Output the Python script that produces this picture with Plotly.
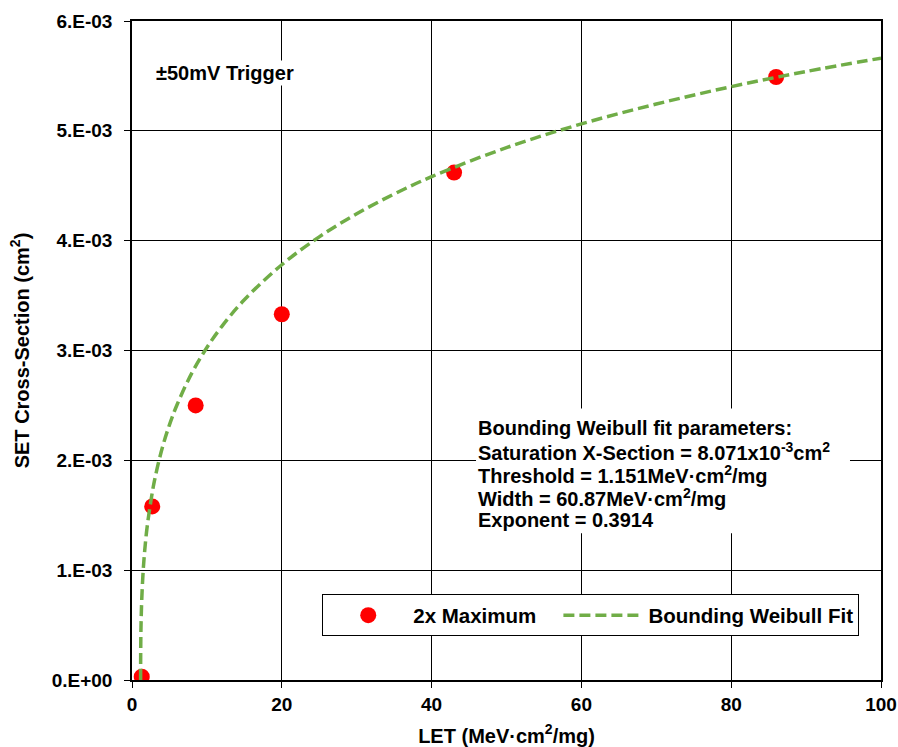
import plotly.graph_objects as go

# Measured data (2x Maximum)
let_pts = [1.3, 2.7, 8.5, 20, 43, 86]
xs_pts = [0.03e-3, 1.58e-3, 2.50e-3, 3.33e-3, 4.62e-3, 5.49e-3]

# Bounding Weibull fit curve
let_fit = [1.151, 1.16, 1.2, 1.3, 1.5, 1.7, 2, 2.5, 3, 4, 5, 6, 8, 10, 12, 15, 20, 25, 30, 35, 40, 50, 60, 70, 80, 90, 100]
xs_fit = [0.0, 0.252e-3, 0.481e-3, 0.732e-3, 1.003e-3, 1.18e-3, 1.382e-3, 1.62e-3, 1.815e-3, 2.103e-3,
          2.323e-3, 2.504e-3, 2.796e-3, 3.027e-3, 3.220e-3, 3.462e-3, 3.781e-3, 4.035e-3, 4.245e-3,
          4.425e-3, 4.583e-3, 4.847e-3, 5.063e-3, 5.244e-3, 5.402e-3, 5.540e-3, 5.662e-3]

y_tickvals = [0, 1e-3, 2e-3, 3e-3, 4e-3, 5e-3, 6e-3]
y_ticktext = ["0.E+00", "1.E-03", "2.E-03", "3.E-03", "4.E-03", "5.E-03", "6.E-03"]
x_tickvals = [0, 20, 40, 60, 80, 100]
x_ticktext = ["0", "20", "40", "60", "80", "100"]

fit_lines = [
    "Bounding Weibull fit parameters:",
    "Saturation X-Section = 8.071x10<sup>-3</sup>cm<sup>2</sup>",
    "Threshold = 1.151MeV·cm<sup>2</sup>/mg",
    "Width = 60.87MeV·cm<sup>2</sup>/mg",
    "Exponent = 0.3914",
]

FONT = "Arial, Liberation Sans, sans-serif"
FT = 19   # tick labels
FS = 20   # other texts

fig = go.Figure()
fig.add_trace(go.Scatter(
    x=let_pts, y=xs_pts, mode="markers", name="<b>2x Maximum</b>\u00a0\u00a0\u00a0",
    marker=dict(color="#ff0000", size=16, line=dict(width=0)),
))
fig.add_trace(go.Scatter(
    x=let_fit, y=xs_fit, mode="lines", name="<b>Bounding Weibull Fit</b>",
    line=dict(color="#70ad47", width=3.5, dash="11px,5px", shape="spline"),
))

fig.update_layout(
    width=898, height=747,
    margin=dict(l=132, r=17, t=21, b=67),
    paper_bgcolor="white", plot_bgcolor="white",
    font=dict(family=FONT, size=FS, color="black"),
    xaxis=dict(
        range=[0, 100], tickvals=x_tickvals, ticktext=["<b>%s</b>" % t for t in x_ticktext],
        ticks="outside", ticklen=6, tickcolor="black", automargin=False,
        showgrid=True, gridcolor="black", gridwidth=1, zeroline=False,
        showline=True, linecolor="black", linewidth=1.5, mirror=True,
        tickfont=dict(family=FONT, size=FT, color="black"),
        title=dict(text="<b>LET (MeV·cm<sup>2</sup>/mg)</b>", font=dict(size=FS), standoff=15),
    ),
    yaxis=dict(
        range=[0, 6e-3], tickvals=y_tickvals, ticktext=["<b>%s</b>" % t for t in y_ticktext],
        ticks="outside", ticklen=6, tickcolor="black", automargin=False,
        ticklabelstandoff=8,
        showgrid=True, gridcolor="black", gridwidth=1, zeroline=False,
        showline=True, linecolor="black", linewidth=1.5, mirror=True,
        tickfont=dict(family=FONT, size=FT, color="black"),
        title=dict(text="<b>SET Cross-Section (cm<sup>2</sup>)</b>", font=dict(size=FS), standoff=17),
    ),
    legend=dict(
        orientation="h", x=0.254, y=0.130, xanchor="left", yanchor="top",
        bgcolor="white", bordercolor="black", borderwidth=1,
        font=dict(family=FONT, size=20.5, color="black"),
        itemwidth=80,
    ),
    showlegend=True,
)

# white text box behind the fit-parameter text (hides gridlines)
fig.add_shape(type="rect", xref="paper", yref="paper", x0=0.4593, x1=0.9586, y0=0.2227, y1=0.4121,
              fillcolor="white", line=dict(width=0), layer="above")

fig.add_annotation(
    xref="paper", yref="paper", x=0.029, y=0.921, xanchor="left", yanchor="middle",
    text="<b>±50mV Trigger</b>", showarrow=False, bgcolor="white",
    font=dict(family=FONT, size=FS, color="black"),
)
line_y = [0.3818, 0.3470, 0.3121, 0.2773, 0.2424]
for txt, yy in zip(fit_lines, line_y):
    fig.add_annotation(
        xref="paper", yref="paper", x=0.459, y=yy, xanchor="left", yanchor="middle",
        text="<b>%s</b>" % txt, align="left", showarrow=False,
        font=dict(family=FONT, size=FS, color="black"),
    )

fig.write_html("out.html", config={"displayModeBar": False},
               post_script="document.body.style.margin='0';document.body.style.overflow='hidden';")
